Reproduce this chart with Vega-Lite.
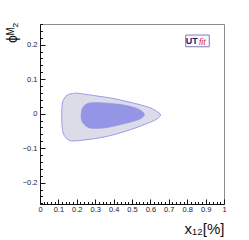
{
  "$schema": "https://vega.github.io/schema/vega-lite/v6.json",
  "width": 184,
  "height": 180,
  "autosize": {"type": "none"},
  "padding": {"left": 40, "top": 24, "right": 25, "bottom": 36},
  "background": "#ffffff",
  "config": {
    "view": {"stroke": "#8c8c8c", "strokeWidth": 1},
    "axis": {"grid": false, "domainColor": "#111111", "domainWidth": 1, "tickColor": "#111111", "tickWidth": 1,
             "labelFont": "Liberation Sans", "labelFontSize": 7.5, "labelColor": "#222222", "labelOverlap": false, "labelFlush": false,
             "titleFont": "Liberation Sans", "titleFontWeight": "normal", "titleColor": "#111111"}
  },
  "datasets": {
    "contours": [
      {"c": "outer", "i": 0, "x": 0.118, "y": -0.007},
      {"c": "outer", "i": 1, "x": 0.121, "y": 0.028},
      {"c": "outer", "i": 2, "x": 0.133, "y": 0.045},
      {"c": "outer", "i": 3, "x": 0.149, "y": 0.054},
      {"c": "outer", "i": 4, "x": 0.174, "y": 0.058},
      {"c": "outer", "i": 5, "x": 0.207, "y": 0.059},
      {"c": "outer", "i": 6, "x": 0.326, "y": 0.050},
      {"c": "outer", "i": 7, "x": 0.408, "y": 0.043},
      {"c": "outer", "i": 8, "x": 0.505, "y": 0.031},
      {"c": "outer", "i": 9, "x": 0.589, "y": 0.019},
      {"c": "outer", "i": 10, "x": 0.630, "y": 0.008},
      {"c": "outer", "i": 11, "x": 0.655, "y": -0.004},
      {"c": "outer", "i": 12, "x": 0.630, "y": -0.017},
      {"c": "outer", "i": 13, "x": 0.589, "y": -0.027},
      {"c": "outer", "i": 14, "x": 0.505, "y": -0.044},
      {"c": "outer", "i": 15, "x": 0.408, "y": -0.060},
      {"c": "outer", "i": 16, "x": 0.326, "y": -0.070},
      {"c": "outer", "i": 17, "x": 0.228, "y": -0.077},
      {"c": "outer", "i": 18, "x": 0.174, "y": -0.079},
      {"c": "outer", "i": 19, "x": 0.147, "y": -0.073},
      {"c": "outer", "i": 20, "x": 0.128, "y": -0.059},
      {"c": "outer", "i": 21, "x": 0.120, "y": -0.036},
      {"c": "inner", "i": 0, "x": 0.223, "y": -0.007},
      {"c": "inner", "i": 1, "x": 0.227, "y": 0.011},
      {"c": "inner", "i": 2, "x": 0.239, "y": 0.022},
      {"c": "inner", "i": 3, "x": 0.261, "y": 0.030},
      {"c": "inner", "i": 4, "x": 0.299, "y": 0.032},
      {"c": "inner", "i": 5, "x": 0.353, "y": 0.031},
      {"c": "inner", "i": 6, "x": 0.435, "y": 0.027},
      {"c": "inner", "i": 7, "x": 0.505, "y": 0.019},
      {"c": "inner", "i": 8, "x": 0.543, "y": 0.011},
      {"c": "inner", "i": 9, "x": 0.568, "y": -0.002},
      {"c": "inner", "i": 10, "x": 0.549, "y": -0.014},
      {"c": "inner", "i": 11, "x": 0.516, "y": -0.021},
      {"c": "inner", "i": 12, "x": 0.446, "y": -0.031},
      {"c": "inner", "i": 13, "x": 0.370, "y": -0.040},
      {"c": "inner", "i": 14, "x": 0.299, "y": -0.043},
      {"c": "inner", "i": 15, "x": 0.261, "y": -0.040},
      {"c": "inner", "i": 16, "x": 0.239, "y": -0.031},
      {"c": "inner", "i": 17, "x": 0.227, "y": -0.021}
    ]
  },
  "resolve": {"axis": {"x": "independent", "y": "independent"}},
  "layer": [
    {
      "data": {"name": "contours"},
      "transform": [{"filter": "datum.c == 'outer'"}],
      "mark": {"type": "line", "interpolate": "cardinal-closed", "fill": "#dcdce8", "stroke": "#9a9aee", "strokeWidth": 1},
      "encoding": {
        "x": {"field": "x", "type": "quantitative",
              "scale": {"domain": [0, 1], "nice": false, "zero": false},
              "axis": {"orient": "bottom", "title": "x₁₂[%]", "titleFontSize": 15, "titleAnchor": "end", "titleAlign": "right", "titleX": 184, "titleY": 29, "titleBaseline": "alphabetic",
                       "values": [0,0.1,0.2,0.3,0.4,0.5,0.6,0.7,0.8,0.9,1],
                       "format": ".1~f", "tickSize": -5, "labelPadding": 6}},
        "y": {"field": "y", "type": "quantitative",
              "scale": {"domain": [-0.262, 0.26], "nice": false, "zero": false},
              "axis": {"orient": "left", "title": "ϕᴹ₂", "titleFontSize": 14, "titleAngle": -90, "titleAlign": "right", "titleBaseline": "middle", "titleX": -28, "titleY": -2,
                       "values": [-0.2,-0.1,0,0.1,0.2],
                       "format": ".1~f", "tickSize": -5, "labelPadding": 8}},
        "order": {"field": "i", "type": "quantitative"}
      }
    },
    {
      "data": {"name": "contours"},
      "transform": [{"filter": "datum.c == 'inner'"}],
      "mark": {"type": "line", "interpolate": "cardinal-closed", "fill": "#9595e5", "stroke": "#9595e5", "strokeWidth": 0.5},
      "encoding": {
        "x": {"field": "x", "type": "quantitative",
              "axis": {"orient": "bottom", "title": null, "labels": false, "domain": false, "tickSize": -2.5,
                       "values": [0.02,0.04,0.06,0.08,0.12,0.14,0.16,0.18,0.22,0.24,0.26,0.28,0.32,0.34,0.36,0.38,0.42,0.44,0.46,0.48,0.52,0.54,0.56,0.58,0.62,0.64,0.66,0.68,0.72,0.74,0.76,0.78,0.82,0.84,0.86,0.88,0.92,0.94,0.96,0.98]}},
        "y": {"field": "y", "type": "quantitative",
              "axis": {"orient": "left", "title": null, "labels": false, "domain": false, "tickSize": -2.5,
                       "values": [-0.26,-0.24,-0.22,-0.18,-0.16,-0.14,-0.12,-0.08,-0.06,-0.04,-0.02,0.02,0.04,0.06,0.08,0.12,0.14,0.16,0.18,0.22,0.24,0.26]}},
        "order": {"field": "i", "type": "quantitative"}
      }
    },
    {
      "data": {"values": [{}]},
      "mark": {"type": "rect", "fill": "#fbfbff", "stroke": "#7c7cae", "strokeWidth": 1},
      "encoding": {
        "x": {"datum": 0.792, "type": "quantitative", "axis": null},
        "x2": {"datum": 0.92},
        "y": {"datum": 0.228, "type": "quantitative", "axis": null},
        "y2": {"datum": 0.194}
      }
    },
    {
      "data": {"values": [{}]},
      "mark": {"type": "text", "text": "UT", "font": "Liberation Sans", "fontWeight": "bold", "fontSize": 9, "color": "#1c1c78", "align": "center", "baseline": "alphabetic"},
      "encoding": {
        "x": {"datum": 0.825, "type": "quantitative", "axis": null},
        "y": {"datum": 0.203, "type": "quantitative", "axis": null}
      }
    },
    {
      "data": {"values": [{}]},
      "mark": {"type": "text", "text": "fit", "font": "Liberation Sans", "fontStyle": "italic", "fontSize": 8.5, "color": "#e02828", "align": "center", "baseline": "alphabetic"},
      "encoding": {
        "x": {"datum": 0.882, "type": "quantitative", "axis": null},
        "y": {"datum": 0.198, "type": "quantitative", "axis": null}
      }
    }
  ]
}
